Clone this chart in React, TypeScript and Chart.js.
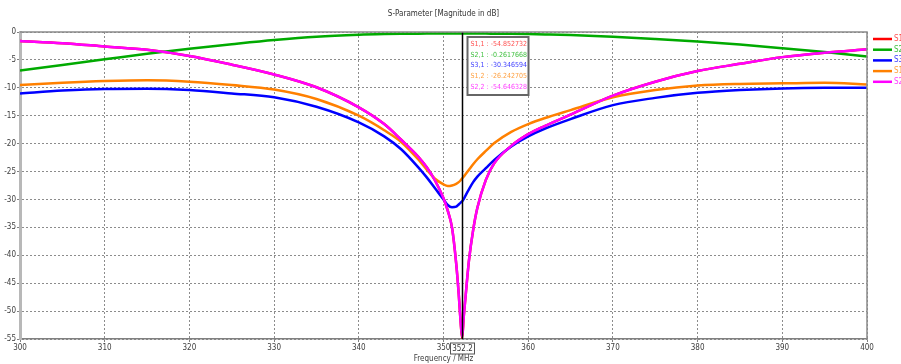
import React, { useEffect, useRef } from "react";
import { Chart, registerables } from "chart.js";

Chart.register(...registerables);

const chartTitle = "S-Parameter [Magnitude in dB]";
const xAxisTitle = "Frequency / MHz";
const markerFreq = 352.2;
const markerLabel = "352.2";

const freqs = [300, 305, 310, 315, 320, 325, 330, 335, 340, 343, 345, 347, 348, 349, 350, 350.5, 351, 351.5, 351.8, 352, 352.2, 352.4, 352.6, 353, 353.5, 354, 355, 356, 358, 360, 362, 365, 370, 375, 380, 385, 390, 395, 400];

const s11 = [-1.6, -2.0, -2.6, -3.2, -4.3, -5.85, -7.6, -9.9, -13.5, -16.5, -19.3, -22.3, -24.2, -26.6, -29.8, -32.0, -35.0, -41.5, -47.0, -51.5, -54.85, -50.8, -47.5, -41.0, -35.5, -31.5, -26.5, -23.5, -20.4, -18.3, -16.8, -14.8, -11.4, -8.9, -7.0, -5.7, -4.5, -3.7, -3.1];
const s21 = [-6.9, -5.9, -4.9, -3.9, -3.0, -2.2, -1.45, -0.85, -0.5, -0.38, -0.33, -0.3, -0.29, -0.28, -0.27, -0.265, -0.264, -0.262, -0.262, -0.262, -0.2618, -0.262, -0.263, -0.265, -0.27, -0.275, -0.285, -0.3, -0.33, -0.38, -0.44, -0.55, -0.85, -1.25, -1.7, -2.25, -2.9, -3.6, -4.4];
const s31 = [-11.0, -10.5, -10.2, -10.15, -10.4, -11.0, -11.7, -13.4, -16.2, -18.7, -21.0, -24.2, -26.0, -28.0, -30.0, -31.0, -31.4, -31.3, -30.9, -30.6, -30.35, -29.9, -29.3, -28.2, -26.9, -25.9, -24.4, -22.9, -20.5, -18.7, -17.3, -15.6, -13.1, -11.8, -10.9, -10.4, -10.1, -10.0, -10.0];
const s12 = [-9.5, -9.1, -8.8, -8.65, -8.9, -9.5, -10.3, -12.0, -15.0, -17.6, -19.7, -22.8, -24.6, -26.3, -27.3, -27.6, -27.5, -27.2, -26.9, -26.6, -26.24, -25.9, -25.5, -24.7, -23.7, -22.8, -21.3, -19.9, -17.9, -16.5, -15.4, -14.0, -11.7, -10.4, -9.6, -9.3, -9.2, -9.1, -9.4];
const s22 = [-1.6, -2.0, -2.6, -3.2, -4.3, -5.85, -7.6, -9.9, -13.5, -16.5, -19.3, -22.3, -24.2, -26.6, -29.8, -32.0, -35.0, -41.5, -47.0, -51.5, -54.65, -50.8, -47.5, -41.0, -35.5, -31.5, -26.5, -23.5, -20.4, -18.3, -16.8, -14.8, -11.4, -8.9, -7.0, -5.7, -4.5, -3.7, -3.1];

const legendLabels = ["S1", "S2", "S3", "S1", "S2"];
const markerTexts = ["S1,1 : -54.852732", "S2,1 : -0.2617668", "S3,1 : -30.346594", "S1,2 : -26.242705", "S2,2 : -54.646328"];

const lineColors = ["#ff0000", "#00aa00", "#0000ff", "#ff8000", "#ff00ff"];
const textColors = ["#ff5050", "#40c040", "#4040ff", "#ffa040", "#ff40ff"];
const seriesValues = [s11, s21, s31, s12, s22];
const drawOrder = [4, 3, 2, 1, 0];

const FONT_FAMILY = '"Liberation Sans Narrow", "DejaVu Sans Condensed", "Liberation Sans", sans-serif';

const overlayPlugin = {
  id: "overlay",
  afterDatasetsDraw(chart: any) {
    const { ctx, chartArea } = chart;
    const xs = chart.scales.x;
    const mx = Math.round(xs.getPixelForValue(markerFreq)) + 0.5;
    ctx.save();
    ctx.strokeStyle = "#000000";
    ctx.lineWidth = 1.5;
    ctx.beginPath();
    ctx.moveTo(mx, chartArea.top);
    ctx.lineTo(mx, chartArea.bottom);
    ctx.stroke();
    ctx.restore();
  },
  afterDraw(chart: any) {
    const { ctx, chartArea } = chart;
    const xs = chart.scales.x;
    const mx = Math.round(xs.getPixelForValue(markerFreq)) + 0.5;
    ctx.save();
    // plot frame top & right
    ctx.strokeStyle = "#8a8a8a";
    ctx.lineWidth = 1.5;
    ctx.beginPath();
    ctx.moveTo(chartArea.left, chartArea.top);
    ctx.lineTo(chartArea.right, chartArea.top);
    ctx.lineTo(chartArea.right, chartArea.bottom);
    ctx.stroke();

    // title
    ctx.font = `8px ${FONT_FAMILY}`;
    ctx.fillStyle = "#333333";
    ctx.textAlign = "center";
    ctx.textBaseline = "middle";
    ctx.fillText(chartTitle, (chartArea.left + chartArea.right) / 2, 14);

    // marker label box
    ctx.fillStyle = "#ffffff";
    ctx.fillRect(mx - 12, chartArea.bottom + 4, 24, 11);
    ctx.strokeStyle = "#555555";
    ctx.lineWidth = 1;
    ctx.strokeRect(mx - 12, chartArea.bottom + 4, 24, 11);
    ctx.fillStyle = "#333333";
    ctx.fillText(markerLabel, mx, chartArea.bottom + 9.5);

    // marker value box
    const bx = mx + 5;
    const by = chartArea.top + 5;
    const bw = 61;
    const bh = 58;
    ctx.fillStyle = "#ffffff";
    ctx.fillRect(bx, by, bw, bh);
    ctx.strokeStyle = "#666666";
    ctx.lineWidth = 2;
    ctx.strokeRect(bx, by, bw, bh);
    ctx.textAlign = "left";
    ctx.font = `7px ${FONT_FAMILY}`;
    markerTexts.forEach((t, i) => {
      ctx.fillStyle = textColors[i];
      ctx.fillText(t, bx + 3, by + 7 + i * 10.7);
    });

    // legend
    ctx.font = `8px ${FONT_FAMILY}`;
    legendLabels.forEach((t, i) => {
      const ly = 39 + i * 10.7;
      ctx.strokeStyle = lineColors[i];
      ctx.lineWidth = 2.5;
      ctx.beginPath();
      ctx.moveTo(873, ly);
      ctx.lineTo(892, ly);
      ctx.stroke();
      ctx.fillStyle = textColors[i];
      ctx.textAlign = "left";
      ctx.fillText(t, 894, ly);
    });
    ctx.restore();
  },
};

export default function App() {
  const canvasRef = useRef<HTMLCanvasElement | null>(null);

  useEffect(() => {
    document.body.style.margin = "0";
    const canvas = canvasRef.current;
    if (!canvas) return;
    const tickFont = { family: FONT_FAMILY, size: 8 };
    const chart = new Chart(canvas, {
      type: "line",
      data: {
        datasets: seriesValues.map((vals, i) => ({
          label: legendLabels[i],
          data: freqs.map((f, j) => ({ x: f, y: vals[j] })),
          borderColor: lineColors[i],
          backgroundColor: lineColors[i],
          borderWidth: 2.5,
          pointRadius: 0,
          cubicInterpolationMode: "monotone" as const,
          order: drawOrder[i],
        })),
      },
      options: {
        animation: false,
        responsive: false,
        maintainAspectRatio: false,
        layout: { padding: { top: 32, right: 34, left: 0, bottom: 0 } },
        plugins: {
          legend: { display: false },
          tooltip: { enabled: false },
          title: { display: false },
        },
        scales: {
          x: {
            type: "linear",
            min: 300,
            max: 400,
            ticks: { stepSize: 10, font: tickFont, color: "#404040", padding: 1, maxRotation: 0 },
            grid: { color: "#8c8c8c", lineWidth: 1, drawTicks: true, tickLength: 3, tickColor: "#808080" },
            border: { display: true, color: "#808080", width: 1.5, dash: [2, 2] },
            title: { display: true, text: xAxisTitle, font: tickFont, color: "#404040", padding: 0 },
            afterFit: (s: any) => { s.height = 25; },
          },
          y: {
            type: "linear",
            min: -55,
            max: 0,
            ticks: { stepSize: 5, font: tickFont, color: "#404040", padding: 1 },
            grid: { color: "#8c8c8c", lineWidth: 1, drawTicks: true, tickLength: 3, tickColor: "#808080" },
            border: { display: true, color: "#b8b8b8", width: 3, dash: [2, 2] },
            afterFit: (s: any) => { s.width = 20; },
          },
        },
      },
      plugins: [overlayPlugin],
    });
    return () => chart.destroy();
  }, []);

  return (
    <div style={{ width: 901, height: 364, background: "#ffffff" }}>
      <canvas ref={canvasRef} width={901} height={364} style={{ display: "block" }} />
    </div>
  );
}
